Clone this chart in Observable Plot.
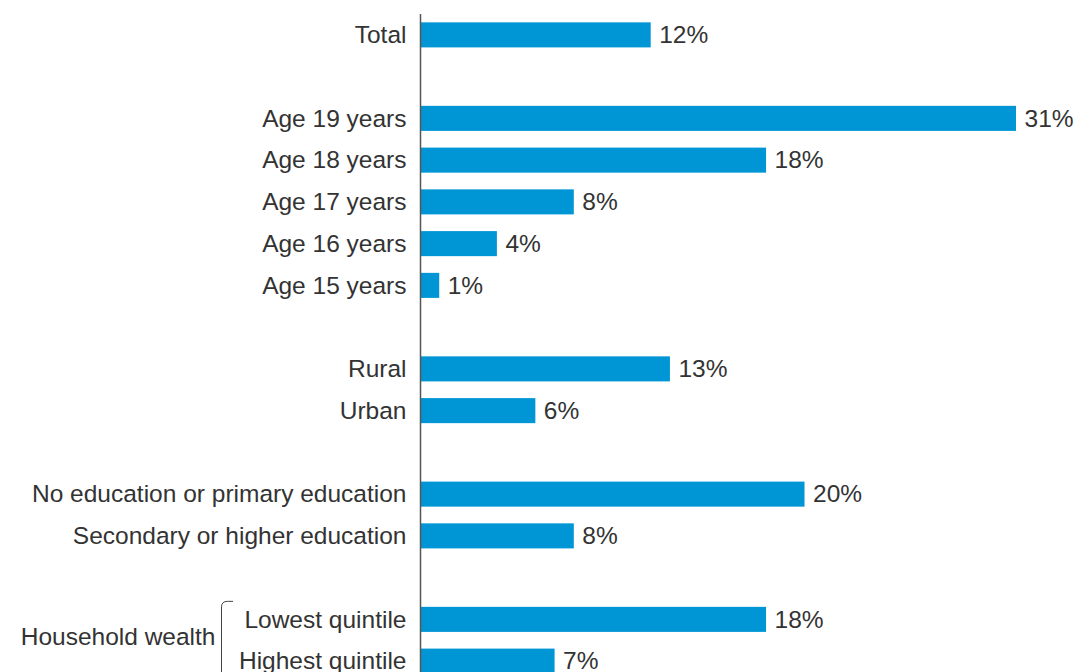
<!DOCTYPE html>
<html>
<head>
<meta charset="utf-8">
<script src="https://cdn.jsdelivr.net/npm/d3@7"></script>
<script src="https://cdn.jsdelivr.net/npm/@observablehq/plot@0.6"></script>
<style>
  html, body { margin: 0; padding: 0; background: #fff; overflow: hidden; }
</style>
</head>
<body>
<div id="chart"></div>
<script>
// Row order (gaps are blank separator rows)
const rows = ["Total", "_gap1", "Age 19 years", "Age 18 years", "Age 17 years", "Age 16 years", "Age 15 years", "_gap2", "Rural", "Urban", "_gap3", "No education or primary education", "Secondary or higher education", "_gap4", "Lowest quintile", "Highest quintile"];
const categories = ["Total", "Age 19 years", "Age 18 years", "Age 17 years", "Age 16 years", "Age 15 years", "Rural", "Urban", "No education or primary education", "Secondary or higher education", "Lowest quintile", "Highest quintile"];
const values = [12, 31, 18, 8, 4, 1, 13, 6, 20, 8, 18, 7];
const groupLabel = "Household wealth";
const groupRows = ["Lowest quintile", "Highest quintile"];

const data = categories.map((c, i) => ({category: c, value: values[i]}));

const bracket = (index, scales, values, dimensions) => {
  const y = scales.y;
  const g = d3.create("svg:g");
  if (typeof y !== "function") return g.node();
  const bw = y.bandwidth ? y.bandwidth() : 25;
  const top = y(groupRows[0]) - 6;
  const bottom = y(groupRows[groupRows.length - 1]) + bw + 6;
  const x0 = 221.5, x1 = 233, r = 6;
  g.append("path")
    .attr("d", `M${x1},${top + 0.5} L${x0 + r},${top + 0.5} Q${x0},${top + 0.5} ${x0},${top + r} L${x0},${bottom}`)
    .attr("fill", "none")
    .attr("stroke", "#444")
    .attr("stroke-width", 1);
  return g.node();
};

const FS = 24.5;

const chart = Plot.plot({
  width: 1077,
  height: 672,
  marginLeft: 420,
  marginRight: 61,
  marginTop: 14,
  marginBottom: -10,
  style: {
    fontFamily: "'Liberation Sans', Arial, Helvetica, sans-serif",
    fontSize: FS + "px",
    color: "#333",
    background: "#fff",
    overflow: "visible"
  },
  x: {domain: [0, 31], axis: null},
  y: {domain: rows, paddingInner: 0.4, paddingOuter: 0.2, align: 0.5, round: false, label: null},
  marks: [
    Plot.axisY({
      tickSize: 0,
      tickPadding: 14,
      tickFormat: d => d.startsWith("_") ? "" : d,
      fill: "#333",
      fontSize: FS,
      label: null
    }),
    Plot.barX(data, {x: "value", y: "category", fill: "#0096d6"}),
    Plot.ruleX([0], {stroke: "#555", strokeWidth: 1.5}),
    Plot.text(data, {
      x: "value", y: "category", text: d => `${d.value}%`,
      textAnchor: "start", dx: 8, fill: "#333", fontSize: FS
    }),
    Plot.text([groupLabel], {
      y: () => groupRows[0], text: d => d, frameAnchor: "left",
      dx: -205, dy: 17, textAnchor: "end", fill: "#333", fontSize: FS
    }),
    bracket
  ]
});

document.getElementById("chart").appendChild(chart);
</script>
</body>
</html>
